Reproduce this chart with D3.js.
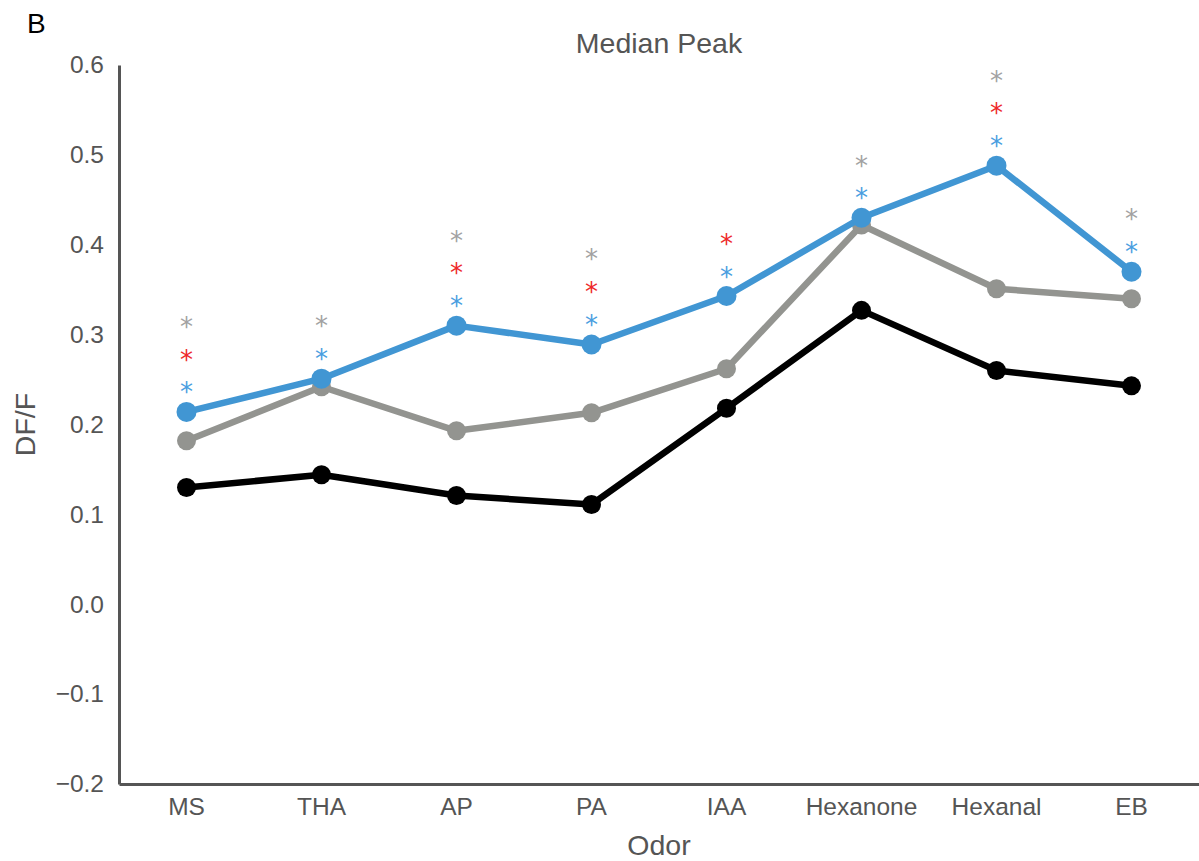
<!DOCTYPE html>
<html><head><meta charset="utf-8">
<script src="https://cdn.jsdelivr.net/npm/d3@7"></script>
<style>body{margin:0;background:#fff;} text{font-family:"Liberation Sans",Arial,sans-serif;}</style>
</head><body>
<svg id="chart" width="1199" height="861"></svg>
<script>
const categories = ["MS","THA","AP","PA","IAA","Hexanone","Hexanal","EB"];
const blackValues = [0.130,0.144,0.121,0.111,0.218,0.327,0.260,0.243];
const grayValues  = [0.182,0.242,0.193,0.213,0.262,0.422,0.351,0.340];
const blueValues  = [0.214,0.251,0.310,0.289,0.343,0.430,0.488,0.370];
const sigBlue = [1,1,1,1,1,1,1,1];
const sigRed  = [1,0,1,1,1,0,1,0];
const sigGray = [1,1,1,1,0,1,1,1];
const yTicks = [-0.2,-0.1,0.0,0.1,0.2,0.3,0.4,0.5,0.6];

const svg = d3.select("#chart");
const mLeft = 119, mRight = 1199, mTop = 65, mBottom = 784;
const x = d3.scaleBand().domain(categories).range([mLeft, mRight]);
const xc = c => x(c) + x.bandwidth()/2;
const y = d3.scaleLinear().domain([-0.2, 0.6]).range([mBottom, mTop]);
const axisColor = "#555555";
const tickFs = 24.5, labelFs = 28.5;

// y axis
const yAxis = svg.append("g").attr("transform", `translate(${mLeft},0)`)
  .call(d3.axisLeft(y).tickValues(yTicks).tickSize(0).tickPadding(15)
    .tickFormat(d => { const s = d3.format(".1f")(Math.abs(d)); return d < 0 ? "\u2212" + s : s; }));
yAxis.select(".domain").attr("stroke", axisColor).attr("stroke-width", 3);
yAxis.selectAll("text").attr("font-size", tickFs).attr("fill", axisColor)
  .attr("font-family", "Liberation Sans, Arial, sans-serif");

// x axis
const xAxis = svg.append("g").attr("transform", `translate(0,${mBottom})`)
  .call(d3.axisBottom(x).tickSize(0).tickPadding(14));
xAxis.select(".domain").attr("stroke", axisColor).attr("stroke-width", 3);
xAxis.selectAll("text").attr("font-size", tickFs).attr("fill", axisColor)
  .attr("font-family", "Liberation Sans, Arial, sans-serif");

// labels
svg.append("text").attr("x", (mLeft+mRight)/2).attr("y", 53).attr("text-anchor","middle")
  .attr("font-size", labelFs).attr("fill", axisColor).text("Median Peak");
svg.append("text").attr("x", (mLeft+mRight)/2).attr("y", 855).attr("text-anchor","middle")
  .attr("font-size", labelFs).attr("fill", axisColor).text("Odor");
svg.append("text").attr("transform", `translate(35,${(mTop+mBottom)/2}) rotate(-90)`)
  .attr("text-anchor","middle").attr("font-size", labelFs).attr("fill", axisColor).text("DF/F");
svg.append("text").attr("x", 27).attr("y", 33).attr("font-size", 28).attr("fill", "#000").text("B");

// series
const series = [
  {vals: blackValues, color: "#000000", w: 6.5, r: 9.5},
  {vals: grayValues,  color: "#939490", w: 6.5, r: 9.5},
  {vals: blueValues,  color: "#4196d3", w: 6.5, r: 10}
];
const line = d3.line().x((d,i) => xc(categories[i])).y(d => y(d));
series.forEach(s => {
  svg.append("path").datum(s.vals).attr("d", line).attr("fill","none")
    .attr("stroke", s.color).attr("stroke-width", s.w).attr("stroke-linejoin","round");
  svg.append("g").selectAll("circle").data(s.vals).join("circle")
    .attr("cx", (d,i) => xc(categories[i])).attr("cy", d => y(d)).attr("r", s.r).attr("fill", s.color);
});

// significance asterisks stacked above blue
const firstOff = 0.0245, step = 0.0365;
const fs = 26;
categories.forEach((c,i) => {
  const marks = [];
  if (sigBlue[i]) marks.push("#4a9edf");
  if (sigRed[i]) marks.push("#ee2a2a");
  if (sigGray[i]) marks.push("#a2a2a2");
  marks.forEach((col,k) => {
    const cy = y(blueValues[i] + firstOff + k*step);
    svg.append("text").attr("x", xc(c)).attr("y", cy + 0.6*fs - 4)
      .attr("text-anchor","middle").attr("font-size", fs)
      .attr("font-family", "DejaVu Sans").style("font-family", "DejaVu Sans")
      .attr("fill", col).text("*");
  });
});
</script>
</body></html>
